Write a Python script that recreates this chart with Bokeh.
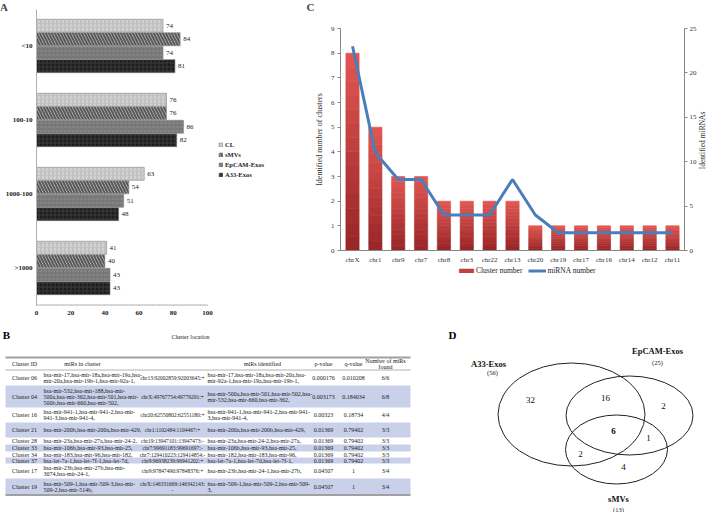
import math
from bokeh.plotting import figure
from bokeh.models import (Range1d, LinearAxis, Legend, LegendItem, Label,
                          ColumnDataSource, FixedTicker)
from bokeh.layouts import column, row
from bokeh.embed import file_html
from bokeh.resources import INLINE
from bokeh.core.properties import value

SERIF = "Liberation Serif"

# ---------------- Panel A data ----------------
size_groups = ["<10", "100-10", "1000-100", ">1000"]
samples = ["CL", "sMVs", "EpCAM-Exos", "A33-Exos"]
cl_vals = [74, 76, 63, 41]
smvs_vals = [84, 76, 54, 40]
epcam_vals = [74, 86, 51, 43]
a33_vals = [81, 82, 48, 43]
a_ticks = [0, 20, 40, 60, 80, 100]

# ---------------- Panel C data ----------------
chroms = ["chrX", "chr1", "chr9", "chr7", "chr8", "chr3", "chr22", "chr13",
          "chr20", "chr19", "chr17", "chr16", "chr14", "chr12", "chr11"]
cluster_number = [8, 5, 3, 3, 2, 2, 2, 2, 1, 1, 1, 1, 1, 1, 1]
mirna_number = [23, 11, 8, 8, 4, 4, 4, 8, 4, 2, 2, 2, 2, 2, 2]
left_ticks = list(range(0, 10))
right_ticks = [0, 5, 10, 15, 20, 25]

# ---------------- Panel B data ----------------
table_headers = ["Cluster ID", "miRs in cluster", "", "miRs identified", "p-value", "q-value",
                 "Number of miRs\nfound"]
cluster_ids = ["Cluster 06", "Cluster 04", "Cluster 16", "Cluster 21", "Cluster 28",
               "Cluster 33", "Cluster 34", "Cluster 37", "Cluster 17", "Cluster 19"]
mirs_in_cluster = [
    "hsa-mir-17,hsa-mir-18a,hsa-mir-19a,hsa-\nmir-20a,hsa-mir-19b-1,hsa-mir-92a-1,",
    "hsa-mir-532,hsa-mir-188,hsa-mir-\n500a,hsa-mir-362,hsa-mir-501,hsa-mir-\n500b,hsa-mir-660,hsa-mir-502,",
    "hsa-mir-941-1,hsa-mir-941-2,hsa-mir-\n941-3,hsa-mir-941-4,",
    "hsa-mir-200b,hsa-mir-200a,hsa-mir-429,",
    "hsa-mir-23a,hsa-mir-27a,hsa-mir-24-2,",
    "hsa-mir-106b,hsa-mir-93,hsa-mir-25,",
    "hsa-mir-183,hsa-mir-96,hsa-mir-182,",
    "hsa-let-7a-1,hsa-let-7f-1,hsa-let-7d,",
    "hsa-mir-23b,hsa-mir-27b,hsa-mir-\n3074,hsa-mir-24-1,",
    "hsa-mir-509-1,hsa-mir-509-3,hsa-mir-\n509-2,hsa-mir-514b,",
]
cluster_location = [
    "chr13:92002859:92003645:+", "chrX:49767754:49779291:+", "chr20:62550802:62551180:+",
    "chr1:1102484:1104467:+", "chr19:13947101:13947473:-", "chr7:99691183:99691697:-",
    "chr7:129410223:129414854:-", "chr9:96938239:96941202:+", "chr9:97847490:97848376:+",
    "chrX:146331669:146342143:\n-",
]
mirs_identified = [
    "hsa-mir-17,hsa-mir-18a,hsa-mir-20a,hsa-\nmir-92a-1,hsa-mir-19a,hsa-mir-19b-1,",
    "hsa-mir-500a,hsa-mir-501,hsa-mir-502,hsa-\nmir-532,hsa-mir-660,hsa-mir-362,",
    "hsa-mir-941-1,hsa-mir-941-2,hsa-mir-941-\n3,hsa-mir-941-4,",
    "hsa-mir-200a,hsa-mir-200b,hsa-mir-429,",
    "hsa-mir-23a,hsa-mir-24-2,hsa-mir-27a,",
    "hsa-mir-106b,hsa-mir-93,hsa-mir-25,",
    "hsa-mir-182,hsa-mir-183,hsa-mir-96,",
    "hsa-let-7a-1,hsa-let-7d,hsa-let-7f-1,",
    "hsa-mir-23b,hsa-mir-24-1,hsa-mir-27b,",
    "hsa-mir-509-1,hsa-mir-509-2,hsa-mir-509-\n3,",
]
p_values = ["0.000176", "0.003173", "0.00323", "0.01369", "0.01369", "0.01369",
            "0.01369", "0.01369", "0.04507", "0.04507"]
q_values = ["0.010208", "0.184034", "0.18734", "0.79402", "0.79402", "0.79402",
            "0.79402", "0.79402", "1", "1"]
mirs_found = [6, 6, 4, 3, 3, 3, 3, 3, 3, 3]
mirs_total = [6, 8, 4, 3, 3, 3, 3, 3, 4, 4]

# ---------------- Panel D data ----------------
venn_sets = ["A33-Exos", "EpCAM-Exos", "sMVs"]
venn_totals = [56, 25, 13]
venn_regions = [32, 16, 2, 6, 1, 2, 4]  # A only, A&E, E only, all, E&S, A&S, S only

COMMON = dict(output_backend="svg", toolbar_location=None, min_border=0)
TOP_H = 306
PAGE_H = 512


def no_align(p):
    try:
        p.frame_align = False
    except Exception:
        pass


def clean(p):
    p.xgrid.visible = False
    p.ygrid.visible = False
    p.outline_line_color = None


# =============== Panel A (frame = whole canvas, axes at fixed locations) ===============
A_W = 300
A_X0, A_X100 = 36, 207          # canvas x of values 0 and 100
A_SLOT = 74                     # px per size group
A_G0 = 267.5                    # canvas y of the lowest group centre
ppx = (A_X100 - A_X0) / 100
n_g = len(size_groups)
pos = [n_g - 1 - i for i in range(n_g)]       # top group first
pA = figure(width=A_W, height=TOP_H,
            x_range=Range1d(-A_X0 / ppx, (A_W - A_X0) / ppx),
            y_range=Range1d(-(TOP_H - A_G0) / A_SLOT, (A_G0) / A_SLOT),
            **COMMON)
no_align(pA)
clean(pA)
vals = [cl_vals, smvs_vals, epcam_vals, a33_vals]
offsets = [0.273, 0.091, -0.091, -0.273]
stylesA = [
    dict(fill_color="#c2c2c2", hatch_pattern="vertical_dash", hatch_color="#e2e2e2", hatch_scale=4, hatch_weight=1),
    dict(fill_color="#d6d6d6", hatch_pattern="left_diagonal_line", hatch_color="#5a5a5a", hatch_scale=6, hatch_weight=2.2),
    dict(fill_color="#787878", hatch_pattern="horizontal_dash", hatch_color="#8e8e8e", hatch_scale=4, hatch_weight=1),
    dict(fill_color="#1c1c1c", hatch_pattern="cross", hatch_color="#3c3c3c", hatch_scale=4, hatch_weight=1),
]
pA.segment(x0=[a_ticks[0]], x1=[a_ticks[-1]], y0=[-0.5], y1=[-0.5], line_color="#b0b0b0", line_width=1)
itemsA = []
for v, off, st, name in zip(vals, offsets, stylesA, samples):
    src = ColumnDataSource(dict(y=[p + off for p in pos], v=v, t=[str(x) for x in v]))
    r = pA.hbar(y="y", right="v", left=0, height=0.176, source=src,
                line_color="#8a8a8a", line_width=0.6, **st)
    pA.text(x="v", y="y", text="t", source=src, x_offset=3, text_baseline="middle",
            text_font=value(SERIF), text_font_size="7px", text_color="#222222")
    itemsA.append(LegendItem(label=name, renderers=[r]))
legA = Legend(items=itemsA, location=(218, TOP_H - 178), label_text_font=SERIF,
              label_text_font_size="6.5px", label_text_font_style="bold",
              label_text_color="#222222", glyph_width=5, glyph_height=5, label_height=6,
              spacing=3, padding=0, margin=0, border_line_alpha=0, background_fill_alpha=0,
              label_standoff=2)
pA.add_layout(legA)
xa = pA.xaxis[0]
xa.fixed_location = -0.5
xa.ticker = FixedTicker(ticks=a_ticks, minor_ticks=list(range(0, 101, 4)))
xa.major_label_overrides = {t: " " for t in a_ticks}
xa.axis_line_color = None
xa.major_tick_out = 2
xa.minor_tick_out = 1
xa.minor_tick_in = 0
ya = pA.yaxis[0]
ya.fixed_location = 0
ya.bounds = (-0.5, n_g - 0.5)
ya.ticker = FixedTicker(ticks=pos, minor_ticks=[])
ya.major_label_overrides = {p: g for p, g in zip(pos, size_groups)}
ya.major_label_text_font_style = "bold"
ya.major_tick_out = 0
ya.major_label_standoff = 4
ya.axis_line_color = "#b0b0b0"
for ax in (xa, ya):
    ax.major_label_text_font = SERIF
    ax.major_label_text_font_size = "7px"
    ax.major_label_text_color = "#222222"
    ax.major_tick_in = 0
    ax.major_tick_line_color = "#b0b0b0"
    ax.minor_tick_line_color = "#b0b0b0"
pA.add_layout(Label(x=3.5, y=TOP_H - 6.5, x_units="screen", y_units="screen",
                    text="A", text_font=SERIF, text_font_size="11px", text_font_style="bold",
                    text_align="center", text_baseline="middle"))

# =============== Panel C (frame = whole canvas, axes at fixed locations) ===============
C_W = 406
C_FIRST, C_LAST = 52, 372       # canvas x of first / last category centre
C_LAXIS, C_RAXIS = 40, 384      # canvas x of the two value axes
ZERO_PX, TOPV_PX = 250, 28      # canvas y of value 0 and of 9 (left) / 25 (right)
n_c = len(chroms)
cx = list(range(n_c))
pxc = (C_LAST - C_FIRST) / (n_c - 1)
ppu_l = (ZERO_PX - TOPV_PX) / 9
ppu_r = (ZERO_PX - TOPV_PX) / 25
pC = figure(width=C_W, height=TOP_H,
            x_range=Range1d(-C_FIRST / pxc, (n_c - 1) + (C_W - C_LAST) / pxc),
            y_range=Range1d(-(TOP_H - ZERO_PX) / ppu_l, 9 + TOPV_PX / ppu_l),
            **COMMON)
no_align(pC)
clean(pC)
pC.extra_y_ranges = {"mi": Range1d(-(TOP_H - ZERO_PX) / ppu_r, 25 + TOPV_PX / ppu_r)}
N = 14
dark = (150, 36, 38)
light = (226, 88, 82)
bar_rs = []
for k in range(N):
    t = (k + 0.5) / N
    col = "#%02x%02x%02x" % tuple(int(round(d + (l - d) * t)) for d, l in zip(dark, light))
    r = pC.vbar(x=cx, bottom=[v * k / N for v in cluster_number],
                top=[v * (k + 1) / N for v in cluster_number], width=0.58,
                fill_color=col, line_color=col, line_width=0.6)
    bar_rs.append(r)
line_r = pC.line(x=cx, y=mirna_number, y_range_name="mi", line_color="#4a7ebb", line_width=3)
legC = Legend(items=[LegendItem(label="Cluster number", renderers=[bar_rs[N // 2]]),
                     LegendItem(label="miRNA number", renderers=[line_r])],
              location=(157, TOP_H - 275), orientation="horizontal", label_text_font=SERIF,
              label_text_font_size="7.5px", label_text_color="#222222", glyph_width=18,
              glyph_height=5, label_height=8, spacing=6, padding=0, margin=0,
              border_line_alpha=0, background_fill_alpha=0, label_standoff=1)
pC.add_layout(legC)
lax_x = (C_LAXIS - C_FIRST) / pxc
rax_x = (n_c - 1) + (C_RAXIS - C_LAST) / pxc
xc = pC.xaxis[0]
xc.fixed_location = 0
xc.bounds = (lax_x, rax_x)
xc.ticker = FixedTicker(ticks=cx, minor_ticks=[])
xc.major_label_overrides = {i: c for i, c in zip(cx, chroms)}
xc.major_tick_out = 0
xc.major_label_standoff = 5
yl = pC.yaxis[0]
yl.fixed_location = lax_x
yl.bounds = (0, 9)
yl.ticker = FixedTicker(ticks=left_ticks, minor_ticks=[])
yl.axis_label = "Identified number of clusters"
yr = LinearAxis(y_range_name="mi", fixed_location=rax_x, bounds=(0, 25),
                ticker=FixedTicker(ticks=right_ticks, minor_ticks=[]))
pC.add_layout(yr, "right")
for ax in (xc, yl, yr):
    ax.major_label_text_font = SERIF
    ax.major_label_text_font_size = "7px"
    ax.major_label_text_color = "#333333"
    ax.axis_label_text_font = SERIF
    ax.axis_label_text_font_size = "8px"
    ax.axis_label_text_font_style = "normal"
    ax.axis_label_text_color = "#333333"
    ax.axis_line_color = "#888888"
    ax.major_tick_line_color = "#888888"
    ax.major_tick_in = 0
    ax.minor_tick_out = 0
    ax.minor_tick_in = 0
for ax in (yl, yr):
    ax.major_tick_out = 3
    ax.major_label_standoff = 3
yr.major_label_standoff = 2
yl.axis_label_standoff = 4
# right-hand axis title, reading bottom to top like the left one
pC.text(x=[(n_c - 1) + (402 - C_LAST) / pxc], y=[12.5], y_range_name="mi",
        text=["Identified  miRNAs"], angle=math.pi / 2, text_align="center",
        text_baseline="middle", text_font=value(SERIF), text_font_size="7.5px",
        text_color="#333333")
pC.add_layout(Label(x=10, y=TOP_H - 6.5, x_units="screen", y_units="screen",
                    text="C", text_font=SERIF, text_font_size="11px", text_font_style="bold",
                    text_align="center", text_baseline="middle"))

# =============== Panel B (table; its coordinates are page pixels) ===============
pB = figure(width=470, height=PAGE_H - TOP_H, x_range=Range1d(0, 470),
            y_range=Range1d(PAGE_H, TOP_H), x_axis_type=None, y_axis_type=None, **COMMON)
no_align(pB)
clean(pB)
# tick labels of panel A's value axis (on A's scale: 0 -> A_X0, 100 -> A_X100)
pB.text(x=[A_X0 + t * ppx for t in a_ticks], y=[312] * len(a_ticks), text=[str(t) for t in a_ticks],
        text_align="center", text_baseline="middle", text_font=value(SERIF),
        text_font_size="7px", text_font_style="bold", text_color="#222222")
row_heights = [15, 22, 15, 15, 7, 7, 6, 6, 15, 16]
tops, bottoms, centers = [], [], []
y = 370
for h in row_heights:
    tops.append(y)
    bottoms.append(y + h)
    centers.append(y + h / 2)
    y += h
shade_idx = [i for i in range(len(cluster_ids)) if i % 2 == 1]
pB.quad(left=5, right=410, top=[tops[i] for i in shade_idx], bottom=[bottoms[i] for i in shade_idx],
        fill_color="#c8d1e9", line_color=None)
pB.segment(x0=5, x1=410, y0=[357, 369.5, bottoms[-1] + 0.5], y1=[357, 369.5, bottoms[-1] + 0.5],
           line_color="#a0a0a0", line_width=[2, 0.8, 2])
txt = dict(text_font=value(SERIF), text_font_size="6px", text_color="#1a1a1a",
           text_baseline="middle", text_line_height=1.0)
txt_small = dict(txt, text_font_size="5.5px")
header_x = [24, 82, 171, 262, 323, 353, 385]
pB.text(x=header_x, y=[363] * 7, text=table_headers, text_align="center", **txt)
pB.text(x=24, y=centers, text=cluster_ids, text_align="center", **txt)
pB.text(x=43, y=centers, text=mirs_in_cluster, text_align="left", **txt)
pB.text(x=172, y=centers, text=cluster_location, text_align="center", **txt_small)
pB.text(x=207, y=centers, text=mirs_identified, text_align="left", **txt)
pB.text(x=323, y=centers, text=p_values, text_align="center", **txt)
pB.text(x=353, y=centers, text=q_values, text_align="center", **txt)
pB.text(x=385, y=centers, text=[f"{a}/{b}" for a, b in zip(mirs_found, mirs_total)],
        text_align="center", **txt)
pB.text(x=[190], y=[336], text=["Cluster location"], text_align="center", **txt)
pB.text(x=[6, 452], y=[334, 334], text=["B", "D"], text_align="center", text_baseline="middle",
        text_font=value(SERIF), text_font_size="11px", text_font_style="bold", text_color="#000000")

# =============== Panel D (Venn; page-pixel coordinates) ===============
pD = figure(width=236, height=PAGE_H - TOP_H, x_range=Range1d(470, 706),
            y_range=Range1d(PAGE_H, TOP_H), x_axis_type=None, y_axis_type=None, **COMMON)
no_align(pD)
clean(pD)
pD.ellipse(x=[571, 629, 616], y=[414, 415, 449], width=[147, 127, 102], height=[103, 79, 69],
           fill_color=None, line_color="#222222", line_width=1)
pD.text(x=[488, 657, 618], y=[363, 350, 498], text=venn_sets, text_align="center",
        text_baseline="middle", text_font=value(SERIF), text_font_size="8.5px",
        text_font_style="bold", text_color="#111111")
pD.text(x=[492, 657, 618], y=[372, 362, 509], text=[f"({v})" for v in venn_totals],
        text_align="center", text_baseline="middle", text_font=value(SERIF),
        text_font_size="6.5px", text_color="#222222")
pD.text(x=[530, 605, 663, 613, 648, 580, 623], y=[399, 397, 405, 430, 437, 453, 466],
        text=[str(v) for v in venn_regions], text_align="center", text_baseline="middle",
        text_font=value(SERIF), text_font_size="9px", text_color="#111111",
        text_font_style=["normal", "normal", "normal", "bold", "normal", "normal", "normal"])

layout = column(row(pA, pC), row(pB, pD))
open("out.html", "w").write(file_html(layout, INLINE))
